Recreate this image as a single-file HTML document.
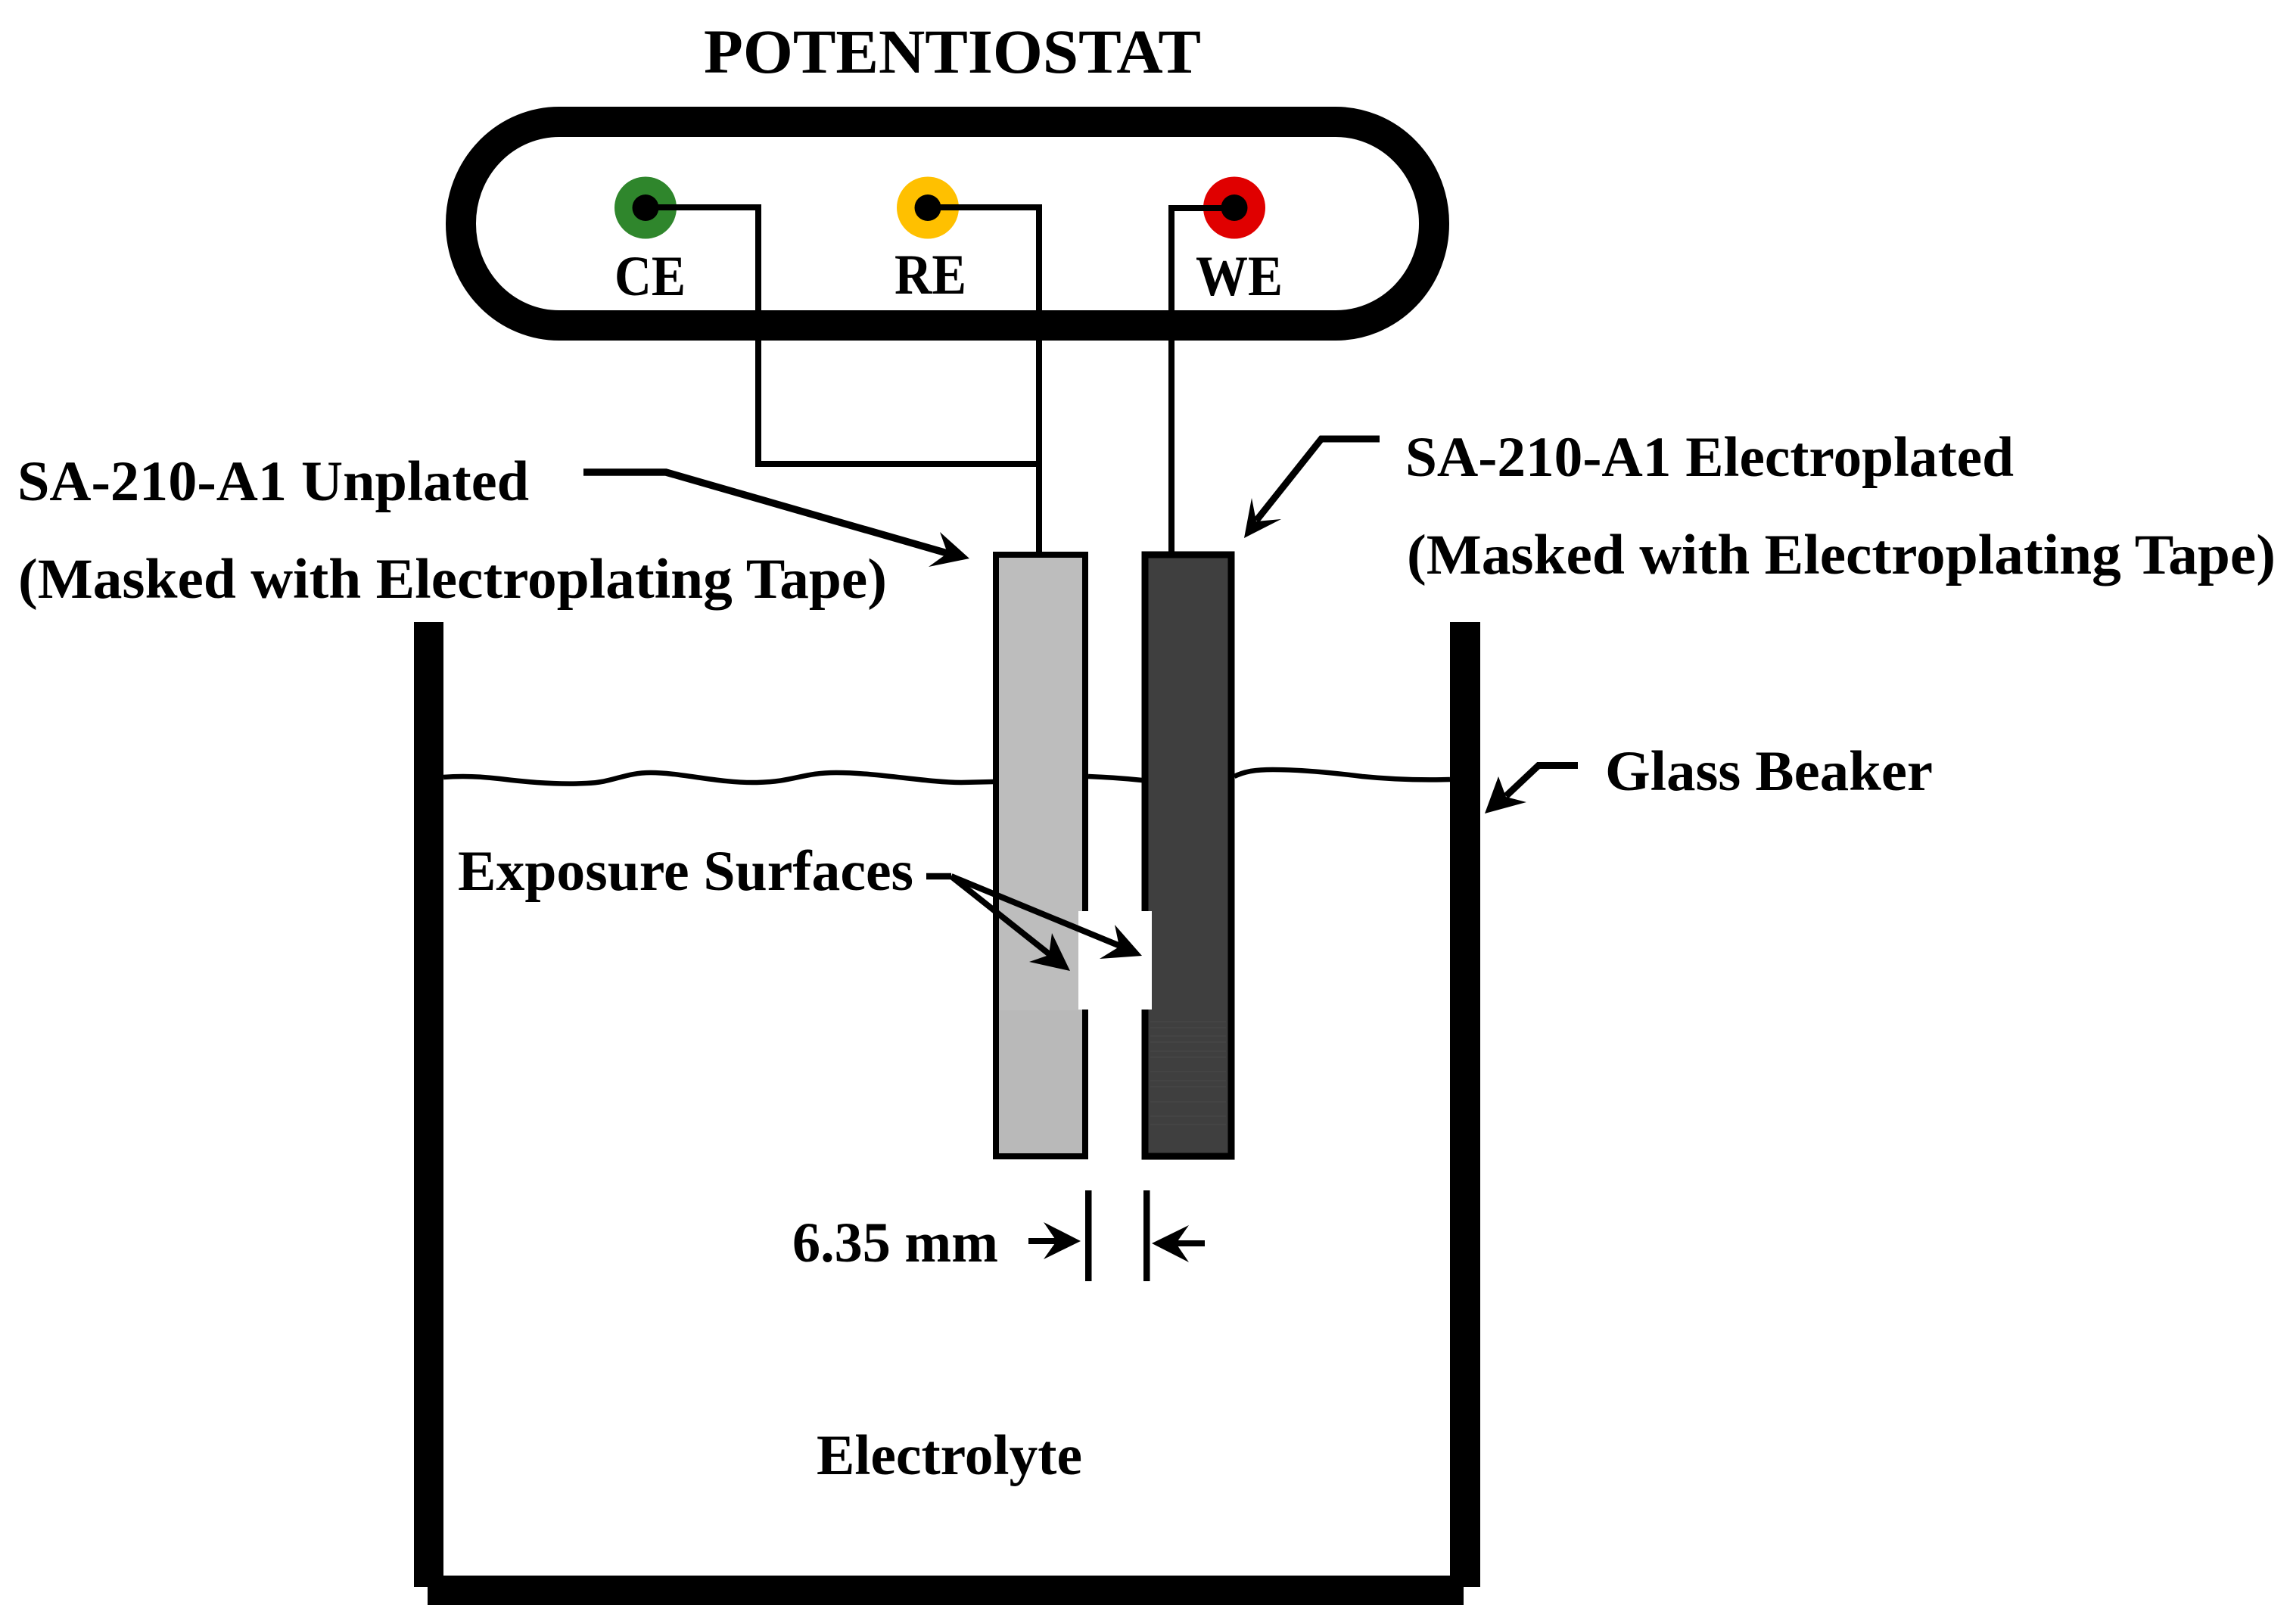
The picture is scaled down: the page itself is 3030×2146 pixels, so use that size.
<!DOCTYPE html>
<html>
<head>
<meta charset="utf-8">
<title>Potentiostat diagram</title>
<style>
html,body{margin:0;padding:0;background:#fff}
svg{display:block}
text{font-family:"Liberation Serif",serif;font-weight:bold;fill:#000}
</style>
</head>
<body>
<svg width="3030" height="2146" viewBox="0 0 3030 2146" xmlns="http://www.w3.org/2000/svg">
<rect width="3030" height="2146" fill="#fff"/>

<!-- Beaker -->
<rect x="547" y="822" width="39" height="1275" fill="#000"/>
<rect x="1916" y="822" width="40" height="1275" fill="#000"/>
<rect x="565" y="2082" width="1369" height="39" fill="#000"/>
<rect x="547" y="2082" width="1409" height="15" fill="#000"/>

<!-- Electrolyte surface -->
<g fill="none" stroke="#000" stroke-width="6.5" stroke-linecap="butt">
<path d="M586 1027 C610 1025 635 1026 660 1029 C700 1034 740 1037 775 1035 C810 1034 825 1021 860 1021 C900 1021 950 1035 1000 1034 C1050 1033 1060 1021 1105 1021 C1160 1021 1225 1034 1270 1034 L1313 1033"/>
<path d="M1438 1026 C1465 1027 1490 1029 1509 1031"/>
<path d="M1631 1026 C1645 1019 1660 1017 1682 1017 C1720 1017 1760 1021 1800 1026 C1840 1030 1880 1031 1916 1030"/>
</g>

<!-- Electrodes -->
<rect x="1316" y="733" width="118" height="795" fill="#bdbdbd" stroke="#000" stroke-width="8"/>
<rect x="1320" y="1335" width="110" height="189" fill="#b9b9b9"/>
<rect x="1513" y="733" width="114" height="795" fill="#3f3f3f" stroke="#000" stroke-width="9"/>
<g stroke="#4b4b4b" stroke-width="1" fill="none" opacity=".9">
<path d="M1520 1350H1620M1520 1358H1620M1520 1369H1620M1520 1377H1620M1520 1389H1620M1520 1397H1620M1520 1416H1620M1520 1428H1620M1520 1436H1620M1520 1456H1620M1520 1475H1620M1520 1486H1620"/>
</g>
<rect x="1425" y="1204" width="97" height="130" fill="#fff"/>

<!-- Potentiostat body -->
<rect x="609" y="161" width="1286" height="269" rx="130" ry="134" fill="none" stroke="#000" stroke-width="40"/>

<!-- Terminals -->
<circle cx="853" cy="274.5" r="41" fill="#2f862c"/>
<circle cx="1226" cy="274.5" r="41" fill="#ffc000"/>
<circle cx="1631" cy="274.5" r="41" fill="#e00000"/>
<circle cx="853" cy="274.5" r="17.5" fill="#000"/>
<circle cx="1226" cy="274.5" r="17.5" fill="#000"/>
<circle cx="1631" cy="274.5" r="17.5" fill="#000"/>

<!-- Wires -->
<g fill="none" stroke="#000" stroke-width="8" stroke-linejoin="miter">
<path d="M853 274H1002V613H1373"/>
<path d="M1226 274H1373V732"/>
<path d="M1631 275H1548V732"/>
</g>

<!-- Leader arrows -->
<g fill="none" stroke="#000">
<path d="M771 624H880L1255 732" stroke-width="9.5"/>
<path d="M1823 580H1746L1660 688" stroke-width="9"/>
<path d="M2085 1011.5H2033L1990 1052" stroke-width="9"/>
<path d="M1224 1158H1257" stroke-width="8.5"/>
<path d="M1257 1158L1388 1262" stroke-width="8"/>
<path d="M1257 1158L1480 1250" stroke-width="8"/>
<path d="M1359 1640H1396" stroke-width="8"/>
<path d="M1592 1643H1554" stroke-width="8"/>
</g>
<g fill="#000">
<polygon points="1281,738 1242,703 1252,731 1227,749"/>
<polygon points="1644,711 1654,658 1660,689 1693,686"/>
<polygon points="1962,1075 1980,1026 1990,1053 2017,1060"/>
<polygon points="1414,1283 1390,1233 1386,1262 1360,1271"/>
<polygon points="1509,1263 1473,1222 1479,1251 1453,1267"/>
<polygon points="1428,1640 1379,1615 1396,1640 1379,1664"/>
<polygon points="1522,1643 1571,1619 1554,1643 1571,1668"/>
</g>

<!-- Dimension ticks -->
<rect x="1434" y="1573" width="8.5" height="120" fill="#000"/>
<rect x="1511" y="1573" width="8.5" height="120" fill="#000"/>

<!-- Labels -->
<text x="930" y="96" font-size="83" textLength="657" lengthAdjust="spacingAndGlyphs">POTENTIOSTAT</text>
<text x="812" y="390" font-size="75" textLength="94" lengthAdjust="spacingAndGlyphs">CE</text>
<text x="1182" y="388" font-size="75" textLength="95" lengthAdjust="spacingAndGlyphs">RE</text>
<text x="1580" y="390" font-size="75" textLength="115" lengthAdjust="spacingAndGlyphs">WE</text>
<text x="23" y="661" font-size="75" textLength="676" lengthAdjust="spacingAndGlyphs">SA-210-A1 Unplated</text>
<text x="24" y="790" font-size="75" textLength="1148" lengthAdjust="spacingAndGlyphs">(Masked with Electroplating Tape)</text>
<text x="1857" y="629" font-size="75" textLength="804" lengthAdjust="spacingAndGlyphs">SA-210-A1 Electroplated</text>
<text x="1859" y="758" font-size="75" textLength="1148" lengthAdjust="spacingAndGlyphs">(Masked with Electroplating Tape)</text>
<text x="2121" y="1044" font-size="75" textLength="433" lengthAdjust="spacingAndGlyphs">Glass Beaker</text>
<text x="605" y="1176" font-size="75" textLength="602" lengthAdjust="spacingAndGlyphs">Exposure Surfaces</text>
<text x="1047" y="1667" font-size="75" textLength="272" lengthAdjust="spacingAndGlyphs">6.35 mm</text>
<text x="1079" y="1948" font-size="75" textLength="351" lengthAdjust="spacingAndGlyphs">Electrolyte</text>
</svg>
</body>
</html>
